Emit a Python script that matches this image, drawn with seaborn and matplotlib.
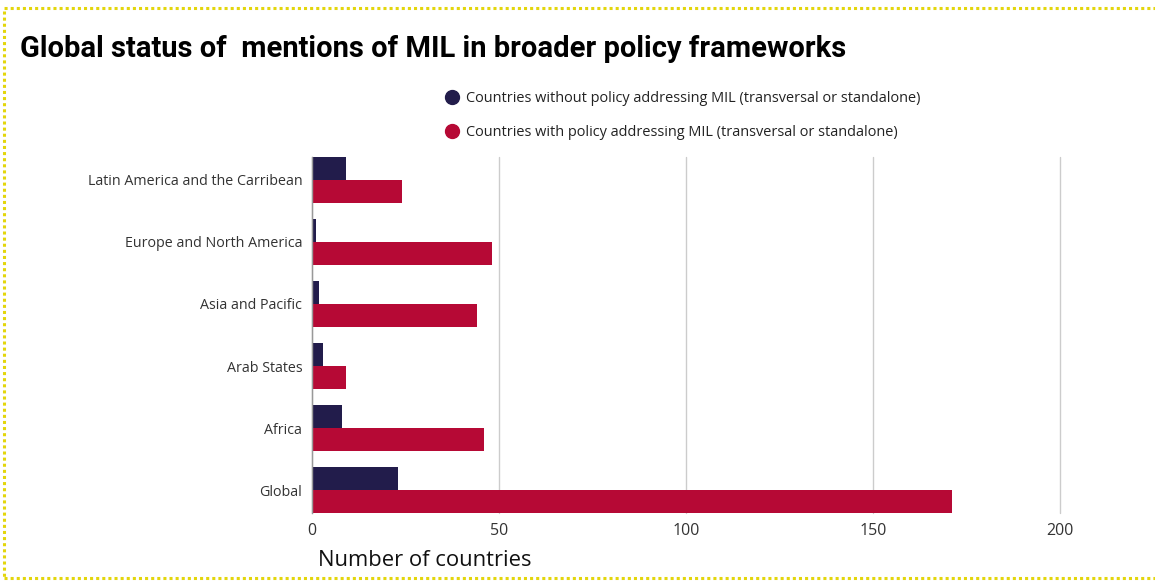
import pandas as pd
import matplotlib.pyplot as plt
import seaborn as sns
from matplotlib.lines import Line2D
from matplotlib.patches import Rectangle

# --- DATA ---
regions = ["Latin America and the Carribean", "Europe and North America",
           "Asia and Pacific", "Arab States", "Africa", "Global"]
without_policy = [9, 1, 2, 3, 8, 23]
with_policy = [24, 48, 44, 9, 46, 171]
series = ["Countries without policy addressing MIL (transversal or standalone)",
          "Countries with policy addressing MIL (transversal or standalone)"]
colors = ["#221c4b", "#b60935"]

df = pd.DataFrame({
    "region": regions * 2,
    "count": without_policy + with_policy,
    "series": [series[0]] * len(regions) + [series[1]] * len(regions),
})

sns.set_style("white")
plt.rcParams["font.family"] = ["Open Sans", "DejaVu Sans"]

fig = plt.figure(figsize=(11.55, 5.81), dpi=100)
ax = fig.add_axes([312 / 1155, 1 - 513 / 581, (1060 - 312) / 1155, (513 - 157) / 581])

sns.barplot(data=df, x="count", y="region", hue="series", palette=colors,
            width=0.74, ax=ax, legend=False, saturation=1, linewidth=0)

ax.set_xlim(0, 200)
ax.set_ylim(5.37, -0.37)
ax.set_xticks([0, 50, 100, 150, 200])
ax.grid(axis="x", color="#cccccc", linewidth=1)
for gl in ax.get_xgridlines():
    gl.set_clip_on(False)
ax.set_axisbelow(True)
for s in ["top", "right", "bottom"]:
    ax.spines[s].set_visible(False)
ax.spines["left"].set_color("#999999")
ax.spines["left"].set_linewidth(1)
ax.tick_params(axis="both", length=0)
ax.tick_params(axis="y", labelsize=10.3, labelcolor="#333333", pad=7)
ax.tick_params(axis="x", labelsize=11.5, labelcolor="#333333", pad=7)
ax.set_xlabel("")
ax.set_ylabel("")

fig.text(318 / 1155, 1 - 560 / 581, "Number of countries", fontsize=15.8,
         color="#111111", va="center", ha="left")

fig.text(20 / 1155, 1 - 49 / 581, "Global status of  mentions of MIL in broader policy frameworks",
         fontsize=21, fontweight="bold", family=["Roboto", "DejaVu Sans"],
         color="#000000", va="center", ha="left")

# legend
for i, (lab, c) in enumerate(zip(series, colors)):
    y = 1 - (97 + 34 * i) / 581
    fig.add_artist(Line2D([452 / 1155], [y], marker="o", markersize=10,
                          color=c, linestyle="none", transform=fig.transFigure))
    fig.text(466 / 1155, y - 2 / 581, lab, fontsize=10.45, color="#222222",
             va="center", ha="left")

# dotted yellow border
fig.patches.append(Rectangle((4 / 1155, 3 / 581), 1.2, 1 - 11 / 581,
                             transform=fig.transFigure, fill=False,
                             edgecolor="#e3d60c", linewidth=2.2,
                             linestyle=(0, (1, 1)), figure=fig))

fig.savefig("out.png", dpi=100)
